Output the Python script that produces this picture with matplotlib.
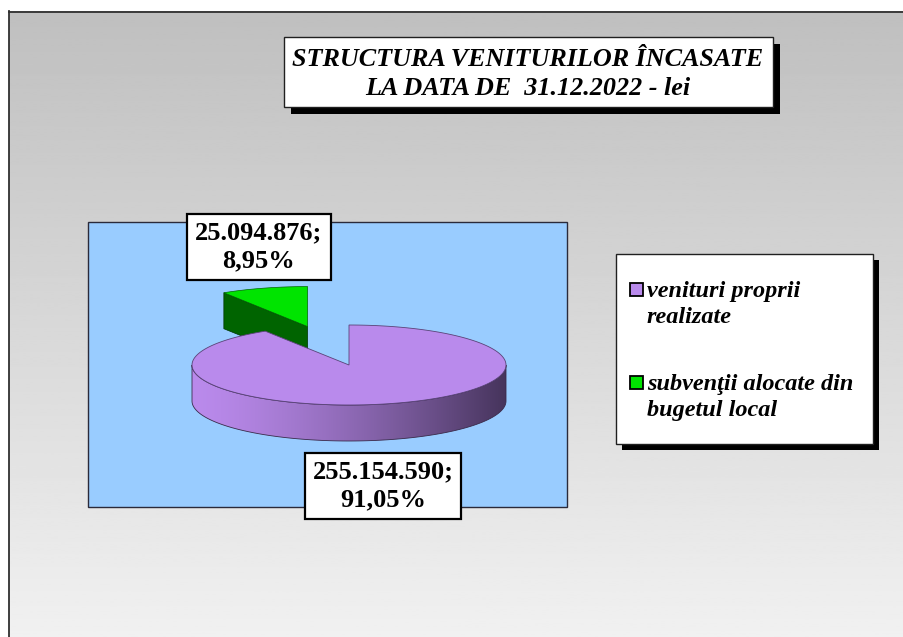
import numpy as np
import matplotlib
matplotlib.use("Agg")
import matplotlib.pyplot as plt
from matplotlib.patches import Polygon, Rectangle

# revenue structure at 31.12.2022 (lei)
categories = ["venituri proprii\nrealizate", "subvenţii alocate din\nbugetul local"]
values = [255154590, 25094876]
colors_top = ["#b98aec", "#00e400"]
colors_dark = ["#4a3960", "#006400"]
title = "STRUCTURA VENITURILOR ÎNCASATE\nLA DATA DE  31.12.2022 - lei"

plt.rcParams["font.family"] = ["Liberation Serif", "DejaVu Serif"]

W, H = 904, 637
fig = plt.figure(figsize=(W / 100, H / 100), dpi=100)
fig.patch.set_facecolor("white")
ax = fig.add_axes([0, 0, 1, 1])
ax.set_xlim(0, W)
ax.set_ylim(H, 0)
ax.axis("off")

# grey chart background, dark at the top, fading downwards
grad = np.linspace(0.75, 0.945, 256).reshape(-1, 1)
ax.imshow(grad, cmap="gray", vmin=0, vmax=1, extent=(9, W + 5, H + 5, 11),
          aspect="auto", zorder=0)
ax.plot([9.5, 9.5], [11, H + 5], color="#303030", lw=1.3, zorder=1)
ax.plot([9, W + 5], [11.5, 11.5], color="#303030", lw=1.3, zorder=1)

# plot area
ax.add_patch(Rectangle((88, 222), 479, 285, facecolor="#99ccff",
                       edgecolor="#2a2a3a", lw=1.0, zorder=2))

# --- 3D pie ---
cx, cy, a, b, depth = 349, 365, 157, 40, 36
fracs = np.array(values) / sum(values)
start = 90.0
green_span = fracs[1] * 360
purple_start, purple_end = start + green_span, start + 360


def pt(theta, dx=0.0, dy=0.0, dz=0.0):
    t = np.radians(theta)
    return cx + dx + a * np.cos(t), cy + dy - b * np.sin(t) + dz


# exploded green slice (drawn first, sits behind)
mid = start + green_span / 2
ex = 1.0
gdx = a * ex * np.cos(np.radians(mid)) * 0.95
gdy = -b * ex * np.sin(np.radians(mid))
g_apex = (cx + gdx, cy + gdy)
g_edge = pt(start + green_span, gdx, gdy)
side = [g_apex, g_edge, (g_edge[0], g_edge[1] + depth), (g_apex[0], g_apex[1] + depth)]
ax.add_patch(Polygon(side, closed=True, facecolor=colors_dark[1],
                     edgecolor="#003300", lw=0.5, zorder=3))
th = np.linspace(start, start + green_span, 40)
gtop = [g_apex] + [pt(t, gdx, gdy) for t in th]
ax.add_patch(Polygon(gtop, closed=True, facecolor=colors_top[1],
                     edgecolor="#006600", lw=0.5, zorder=4))

# purple slice: front wall with shading, then top face
th = np.linspace(180, 360, 120)
upper = [pt(t) for t in th]
lower = [pt(t, dz=depth) for t in th[::-1]]
wall = Polygon(upper + lower, closed=True, facecolor="none",
               edgecolor="#3a2a4a", lw=0.6, zorder=6)
ax.add_patch(wall)
xs = np.linspace(0, 1, 300)
shade = xs ** 1.4
light = np.array([186, 138, 236]) / 255
dark = np.array([70, 52, 92]) / 255
img = (light[None, :] * (1 - shade[:, None]) + dark[None, :] * shade[:, None])[None, :, :]
im = ax.imshow(img, extent=(cx - a, cx + a, cy + depth + b + 2, cy - 2),
               aspect="auto", zorder=5)
im.set_clip_path(wall)

th = np.linspace(purple_start, purple_end, 200)
ptop = [(cx, cy)] + [pt(t) for t in th]
ax.add_patch(Polygon(ptop, closed=True, facecolor=colors_top[0],
                     edgecolor="#5a4378", lw=0.6, zorder=7))


def fmt_label(v, f):
    num = f"{v:,}".replace(",", ".")
    pct = f"{f * 100:.2f}".replace(".", ",")
    return f"{num};\n{pct}%"


box = dict(boxstyle="square,pad=0.3", facecolor="white", edgecolor="black", lw=1.6)
ax.text(383, 486, fmt_label(values[0], fracs[0]), ha="center", va="center",
        fontsize=19, fontweight="bold", linespacing=1.27, bbox=box, zorder=10)
ax.text(259, 247, fmt_label(values[1], fracs[1]), ha="center", va="center",
        fontsize=19, fontweight="bold", linespacing=1.27, bbox=box, zorder=10)

# title box with drop shadow
ax.add_patch(Rectangle((291, 44), 489, 70, facecolor="black", lw=0, zorder=8))
ax.add_patch(Rectangle((284, 37), 489, 70, facecolor="white", edgecolor="#202020",
                       lw=1.0, zorder=9))
ax.text(528, 74, title, ha="center", va="center", fontsize=18.8,
        fontweight="bold", fontstyle="italic", linespacing=1.32, zorder=10)

# legend box with drop shadow
ax.add_patch(Rectangle((622, 260), 257, 190, facecolor="black", lw=0, zorder=8))
ax.add_patch(Rectangle((616, 254), 257, 190, facecolor="white", edgecolor="#202020",
                       lw=1.0, zorder=9))
for i, (lab, col) in enumerate(zip(categories, colors_top)):
    y0 = 297 + i * 93
    ax.add_patch(Rectangle((630.5, y0 - 14.5), 13, 13, facecolor=col,
                           edgecolor="black", lw=1.3, zorder=10))
    for j, line in enumerate(lab.split("\n")):
        ax.text(647, y0 + j * 26, line, ha="left", va="baseline", fontsize=17.5,
                fontweight="bold", fontstyle="italic", zorder=10)

fig.savefig("out.png", dpi=100, facecolor=fig.get_facecolor())
